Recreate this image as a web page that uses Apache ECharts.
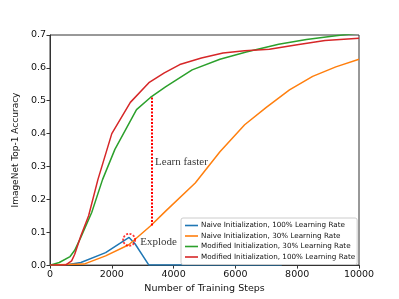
<!DOCTYPE html>
<html><head><meta charset="utf-8">
<script src="https://cdn.jsdelivr.net/npm/echarts@6/dist/echarts.min.js"></script>
<style>html,body{margin:0;padding:0;background:#fff}#c{width:399px;height:299px}</style>
</head><body><div id="c"></div>
<script>
const seriesNames = [
  'Naive Initialization, 100% Learning Rate',
  'Naive Initialization, 30% Learning Rate',
  'Modified Initialization, 30% Learning Rate',
  'Modified Initialization, 100% Learning Rate'
];
const naive100 = [[0,0],[600,0.002],[1000,0.008],[1800,0.038],[2560,0.084],[2750,0.065],[3200,0],[7500,0]];
const naive30 = [[0,0],[1100,0.003],[1800,0.028],[2550,0.062],[3250,0.119],[3750,0.165],[4700,0.25],[5500,0.345],[6300,0.427],[7000,0.48],[7750,0.533],[8500,0.574],[9250,0.603],[10000,0.626]];
const modified30 = [[0,0],[300,0.008],[650,0.026],[800,0.045],[1000,0.085],[1350,0.16],[1700,0.26],[2100,0.352],[2800,0.473],[3250,0.51],[3750,0.543],[4600,0.594],[5500,0.626],[6350,0.648],[7400,0.672],[8300,0.686],[9250,0.698],[10000,0.706]];
const modified100 = [[0,0],[500,0],[700,0.013],[800,0.033],[1000,0.089],[1250,0.15],[1550,0.26],[2000,0.40],[2600,0.495],[3200,0.555],[3700,0.585],[4200,0.61],[4900,0.63],[5600,0.645],[6300,0.652],[7100,0.657],[8000,0.67],[8900,0.683],[10000,0.69]];
const fasterLine = [[3280,0.51],[3280,0.119]];
const explodeCircle = [[2560,0.077]];
const labels = [{text:'Learn faster', x:3400, y:0.313}, {text:'Explode', x:2920, y:0.069}];
const xTicks = {min:0, max:10000, interval:2000};
const yTicks = {min:0, max:0.7, interval:0.1};
const colors = ['#1f77b4','#ff7f0e','#2ca02c','#d62728'];
const datas = [naive100, naive30, modified30, modified100];

const chart = echarts.init(document.getElementById('c'), null, {renderer:'canvas'});
const font = 'DejaVu Sans';
const lineSeries = seriesNames.map((n,i)=>({
  name:n, type:'line', data:datas[i], showSymbol:false, symbol:'none',
  lineStyle:{color:colors[i], width:1.5}, itemStyle:{color:colors[i]}, z:2+i, animation:false
}));
lineSeries[2].markLine = {
  silent:true, symbol:'none', animation:false,
  lineStyle:{color:'#ff0000', type:[2,1.5], width:2},
  label:{show:false},
  data:[[{coord:fasterLine[0]},{coord:fasterLine[1]}]]
};
chart.setOption({
  animation:false,
  grid:{left:50, right:40, top:35, bottom:33, show:true, borderColor:'#333', borderWidth:1, backgroundColor:'transparent'},
  legend:{
    data:seriesNames, orient:'vertical', left:181, top:218,
    icon:'rect', itemWidth:13, itemHeight:1.6, itemGap:1.5,
    padding:[3,2,3,4], backgroundColor:'#fff', borderColor:'#ccc', borderWidth:1, borderRadius:2,
    textStyle:{fontFamily:font, fontSize:7.2, color:'#111', lineHeight:9, padding:[0,0,0,-2]}
  },
  xAxis:{type:'value', min:xTicks.min, max:xTicks.max, interval:xTicks.interval,
    name:'Number of Training Steps', nameLocation:'middle', nameGap:15,
    nameTextStyle:{fontFamily:font, fontSize:9.5, color:'#111'},
    axisLine:{show:true, lineStyle:{color:'#333'}}, axisTick:{show:true, length:3.5, lineStyle:{color:'#333'}},
    axisLabel:{fontFamily:font, fontSize:9.5, color:'#111', margin:4, formatter:v=>String(v)}, splitLine:{show:false}},
  yAxis:{type:'value', min:yTicks.min, max:yTicks.max, interval:yTicks.interval,
    name:'ImageNet Top-1 Accuracy', nameLocation:'middle', nameGap:29,
    nameTextStyle:{fontFamily:font, fontSize:9, color:'#111'},
    axisLine:{show:true, lineStyle:{color:'#333'}}, axisTick:{show:true, length:3.5, lineStyle:{color:'#333'}},
    axisLabel:{fontFamily:font, fontSize:9.5, color:'#111', margin:4, formatter:v=>v.toFixed(1)}, splitLine:{show:false}},
  series:[...lineSeries,
    {type:'scatter', data:explodeCircle, symbol:'circle', symbolSize:12, z:10, silent:true,
     itemStyle:{color:'rgba(0,0,0,0)', borderColor:'#ff0000', borderWidth:1.8, borderType:[2,1.5]}},
    {type:'scatter', data:labels.map(l=>({value:[l.x,l.y], name:l.text})), symbolSize:0, z:11, silent:true,
     label:{show:true, position:'right', distance:0, formatter:p=>p.name, fontFamily:'Liberation Serif', fontSize:11, color:'#000'}}
  ]
});
</script></body></html>
